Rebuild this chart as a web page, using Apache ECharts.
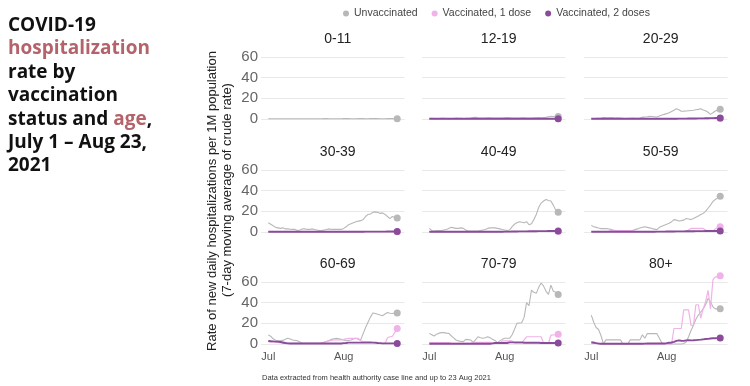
<!DOCTYPE html>
<html><head><meta charset="utf-8">
<script src="https://cdn.jsdelivr.net/npm/echarts@6/dist/echarts.min.js"></script>
<style>html,body{margin:0;padding:0;background:#fff}#c{width:750px;height:386px}</style>
</head><body><div id="c"></div>
<script>
// ---- Data (Jul 1 .. Aug 23, 2021: 54 days) ----
const dayCount = 54;
const monthTicks = [0, 31];
const monthLabels = ['Jul', 'Aug'];
const ageGroups = ['0-11','12-19','20-29','30-39','40-49','50-59','60-69','70-79','80+'];
const seriesNames = ['Unvaccinated', 'Vaccinated, 1 dose', 'Vaccinated, 2 doses'];
const yTicks = [0, 20, 40, 60];

const unvax_0_11 = [0.3,0.3,0.2,0.3,0.3,0.2,0.3,0.3,0.2,0.2,0.3,0.3,0.3,0.2,0.2,0.3,0.3,0.3,0.2,0.2,0.3,0.3,0.3,0.4,0.4,0.3,0.3,0.3,0.2,0.3,0.3,0.4,0.4,0.4,0.3,0.3,0.3,0.4,0.4,0.4,0.3,0.3,0.4,0.4,0.4,0.4,0.3,0.3,0.3,0.4,0.4,0.4,0.3,0.3];
const dose1_0_11 = null;
const dose2_0_11 = null;

const unvax_12_19 = [0.5,0.6,0.5,0.4,0.5,0.7,0.6,0.5,0.4,0.5,0.6,0.8,0.7,0.6,0.5,0.6,0.8,1.0,1.4,1.6,1.2,0.9,0.8,0.9,1.1,1.2,1.0,0.9,0.8,0.9,1.0,1.2,1.3,1.1,0.9,0.8,0.9,1.0,1.1,1.2,1.0,0.9,1.0,1.1,1.2,1.3,1.2,1.4,1.6,2.2,2.5,2.4,2.6,2.4];
const dose1_12_19 = [0.3,0.3,0.3,0.3,0.3,0.3,0.3,0.3,0.3,0.3,0.3,0.3,0.3,0.3,0.3,0.3,0.3,0.3,0.3,0.3,0.3,0.3,0.3,0.3,0.3,0.3,0.3,0.3,0.3,0.3,0.3,0.3,0.3,0.3,0.3,0.3,0.3,0.3,0.3,0.3,0.3,0.3,0.3,0.3,0.3,0.3,0.3,0.3,0.3,0.3,0.3,0.3,0.3,0.3];
const dose2_12_19 = [0.2,0.2,0.2,0.2,0.2,0.2,0.2,0.2,0.2,0.2,0.2,0.2,0.2,0.2,0.2,0.2,0.2,0.2,0.2,0.2,0.2,0.2,0.2,0.2,0.2,0.2,0.2,0.2,0.2,0.2,0.2,0.2,0.2,0.2,0.2,0.2,0.2,0.2,0.2,0.2,0.2,0.2,0.2,0.2,0.2,0.2,0.2,0.2,0.2,0.2,0.2,0.2,0.2,0.2];

const unvax_20_29 = [0.3,0.5,0.6,0.8,1.0,1.5,1.3,1.2,1.4,1.2,1.0,1.1,1.0,0.8,0.5,0.6,0.7,0.8,0.7,0.6,0.9,1.8,2.0,2.2,2.5,2.4,2.2,2.0,3.0,3.8,4.5,5.2,6.0,7.2,8.5,10.0,9.0,7.5,7.6,7.8,8.0,8.2,8.4,9.0,9.3,10.0,8.8,8.0,6.5,4.5,6.0,7.8,8.6,9.5];
const dose1_20_29 = [0.3,0.3,0.3,0.3,0.3,0.3,0.3,0.3,0.3,0.3,0.3,0.3,0.3,0.3,0.3,0.3,0.3,0.3,0.3,0.3,0.3,0.3,0.3,0.3,0.3,0.3,0.3,0.3,0.3,0.3,0.3,0.3,0.3,0.3,0.4,0.4,0.4,0.4,0.4,0.4,0.4,0.4,0.4,0.4,0.4,0.4,0.4,0.4,0.4,0.4,0.4,0.4,0.4,0.4];
const dose2_20_29 = [0.2,0.2,0.2,0.2,0.2,0.2,0.2,0.2,0.2,0.2,0.2,0.2,0.2,0.2,0.2,0.2,0.2,0.2,0.2,0.2,0.2,0.2,0.2,0.2,0.2,0.2,0.2,0.2,0.2,0.2,0.3,0.3,0.3,0.3,0.3,0.3,0.4,0.4,0.4,0.4,0.5,0.5,0.5,0.5,0.6,0.6,0.6,0.7,0.7,0.8,0.8,0.9,0.9,1.0];

const unvax_30_39 = [9,7.5,6,4.5,4,3.5,4,3,3,2.7,2.5,2.5,1.5,2,3,3,2.5,2.5,3,2.5,2,1.5,1.5,2,2.5,3,2.5,2.5,2.5,2.5,2.5,3.5,5,7,8,9,10,10.5,11,12,15,17,17.5,19,19.5,19,18,18.5,17,15,13,15,14,13.5];
const dose1_30_39 = [0.3,0.3,0.3,0.3,0.3,0.3,0.3,0.3,0.3,0.3,0.3,0.3,0.3,0.3,0.3,0.3,0.3,0.3,0.3,0.3,0.3,0.3,0.3,0.3,0.3,0.3,0.3,0.3,0.3,0.3,0.3,0.3,0.3,0.3,0.3,0.3,0.3,0.3,0.3,0.3,0.3,0.3,0.3,0.3,0.3,0.3,0.3,0.3,0.3,0.3,0.3,0.3,0.3,0.3];
const dose2_30_39 = [0.2,0.2,0.2,0.2,0.2,0.2,0.2,0.2,0.2,0.2,0.2,0.2,0.2,0.2,0.2,0.2,0.2,0.2,0.2,0.2,0.2,0.2,0.2,0.2,0.2,0.2,0.2,0.2,0.2,0.2,0.3,0.3,0.3,0.3,0.3,0.3,0.3,0.3,0.3,0.3,0.4,0.4,0.4,0.4,0.4,0.4,0.4,0.4,0.4,0.5,0.5,0.5,0.5,0.5];

const unvax_40_49 = [3.5,1.5,1,1.5,1.5,1.5,2,2.5,3.5,4.5,4,3.5,3.5,4,3.5,2,1,1,1,1,1,1.5,2,2.5,3.5,4,4,4,3.5,3,2.5,2,1.5,2,5,7.5,9,10,9.5,9,10,7,8,12,17,24,28,30,31.5,30.5,30,26,21,19];
const dose1_40_49 = [0.3,0.3,0.3,0.3,0.3,0.3,0.3,0.3,0.3,0.3,0.3,0.3,0.3,0.3,0.3,0.3,0.3,0.3,0.3,0.3,0.3,0.3,0.3,0.3,0.3,0.3,0.3,0.3,0.3,0.3,0.3,0.3,0.3,0.3,0.5,0.5,0.5,0.5,0.5,0.5,0.5,0.5,0.5,0.5,0.5,0.5,0.5,0.5,0.5,0.5,0.5,0.5,0.5,0.5];
const dose2_40_49 = [0.2,0.2,0.2,0.2,0.2,0.2,0.2,0.2,0.2,0.2,0.2,0.2,0.2,0.2,0.2,0.2,0.2,0.2,0.2,0.2,0.2,0.2,0.2,0.2,0.2,0.2,0.3,0.3,0.3,0.3,0.3,0.4,0.4,0.4,0.5,0.5,0.5,0.6,0.6,0.6,0.6,0.7,0.7,0.7,0.7,0.8,0.8,0.8,0.8,0.9,0.9,0.9,1.0,1.0];

const unvax_50_59 = [6.7,5,4.5,3.8,3.3,3.3,3.4,3,2.7,1.8,1.3,1,1,1.1,1,1,1.3,1.7,2.3,3,3.8,4.6,5,4.5,4,3.3,2.8,2.3,4.5,5.5,6.5,7.5,8.5,10,12,11.5,10.7,11,11.5,13,12.5,12,13,14.3,15.5,17,18,20,23,26,29.5,31.5,33,34.5];
const dose1_50_59 = [0.5,0.5,0.5,0.5,0.5,0.5,0.5,0.5,1.3,1.3,1.3,1.3,1.3,1.3,1.3,1.3,1.3,1.3,0.5,0.5,0.5,0.5,0.5,0.5,0.5,0.5,0.5,0.5,0.5,0.5,0.5,0.5,0.5,0.5,0.5,0.5,0.5,0.5,0.5,0.5,2,3.5,3.5,3.5,3.5,3.5,3.5,2,0.8,0.8,0.8,3,4.5,5];
const dose2_50_59 = [0.3,0.3,0.3,0.3,0.3,0.3,0.3,0.3,0.3,0.3,0.3,0.3,0.3,0.3,0.3,0.3,0.3,0.3,0.3,0.3,0.3,0.3,0.3,0.3,0.3,0.3,0.3,0.4,0.4,0.4,0.4,0.5,0.5,0.5,0.5,0.6,0.6,0.6,0.6,0.7,0.7,0.7,0.7,0.8,0.8,0.8,0.8,0.9,0.9,0.9,1.0,1.0,1.0,1.0];

const unvax_60_69 = [8.7,7.5,5,3.7,3.2,3.3,3.5,4.5,5.5,4.8,3.9,3.5,3.2,2,1,0.7,0.6,0.6,0.6,0.6,0.6,0.7,1.2,1.8,2.5,3.5,4.5,5,5.5,5,4.5,4,3.2,3.5,3.9,4.8,5.5,4.5,4,10,16,21,26,30,29.5,28.7,28,27.4,29,30.5,29.7,29.5,30,30];
const dose1_60_69 = [2.3,2,2,2,1.5,1,0.6,0.6,0.6,0.6,0.6,0.6,0.6,0.6,0.6,0.6,0.6,0.6,0.6,0.6,0.6,0.6,0.6,1.5,2.5,3,3.5,3.9,3.9,4,3.9,4.5,5,5.5,5.5,5.5,5.5,5.5,3,2.3,2.3,2.3,2.3,1.5,0.6,0.6,0.5,0.3,0.5,6,7,7.5,11,15];
const dose2_60_69 = [2.9,2.7,2.5,2.3,2.3,2,1.5,1,0.6,0.5,0.5,0.5,0.5,0.5,0.5,0.5,0.5,0.5,0.5,0.5,0.5,0.5,0.5,0.5,0.5,0.5,0.5,0.5,0.5,0.5,0.5,0.8,1,1.3,1.3,1.3,1.3,1.3,1.3,1.3,1.3,1.3,1.3,1.3,1.3,1,0.8,0.6,0.6,0.6,0.6,0.6,0.6,0.6];

const unvax_70_79 = [10.3,9,7.7,9.5,10.5,11,11,10.5,10.3,8,6,3.9,3,2.5,2.3,4.5,4.2,3.9,1.6,4,7,6,5.5,6,7,6,4.5,3.5,1.3,3,4.5,5.5,5.5,5.5,8.7,14,20,20.3,20.6,26,40,37,52,50,49,55,59,56,51,48,57,51,50,48];
const dose1_70_79 = [1.3,1.3,1.3,1.3,1.3,1.3,1.3,1.3,1.3,0.6,0.6,0.6,0.6,0.6,0.6,0.6,0.6,0.6,1.6,1.6,1.6,1.6,1.6,1.6,1.6,1.6,0.8,0.8,0.8,0.8,3,3,3,3,3,0.8,0.8,0.8,0.8,4,7,7,7,7,7,7,7,0.8,0.6,0.6,8.5,8.7,9,9.5];
const dose2_70_79 = [0.3,0.3,0.3,0.3,0.3,0.3,0.3,0.3,0.3,0.3,0.3,0.3,0.3,0.3,0.3,0.3,0.3,0.3,0.3,0.3,0.3,0.3,0.3,0.3,0.3,0.3,0.6,1,1,1,1,1,1,1.6,1.6,1.6,1.6,1.6,1.6,1.2,1.2,1.2,1.2,1.2,1.2,1.2,1,1,1,1,1,1,1,1];

const unvax_80p = [28,21,16,14,8,0,4,4,4,4,4,4,4,0,0,0,4,4,4,4,4,9,5.5,10,10,10,10,10,5.5,1,0,0,0,0,0,0,0,0,0.5,2,7,13,18,24,28,31,34,38,44,41,36,34,34,34];
const dose1_80p = [2.3,2,1,0.5,0,0,0,0,0,0,0,0,0,0,0,0,0,0,0,0,0,0,0,0,0,0,0,0,0,0,0,0,0,0,15,15,15,15,33,33,33,18,18,38,38,25,34,41,52,34,62,65,65,66];
const dose2_80p = [1.5,1.2,0.8,0.5,0.3,0.3,0.3,0.3,0.3,0.3,0.3,0.3,0.3,0.3,0.3,0.3,0.3,0.3,0.3,0.3,0.3,0.3,0.4,0.5,0.5,0.5,0.5,0.5,0.5,0.5,0.5,0.8,1.2,1.5,2,3,3.5,3.2,3,3.5,3.8,3.5,3.6,3.8,4,4.2,4.5,4.8,5,5.3,5.5,5.6,5.7,5.8];

const panelData = [
  [unvax_0_11, dose1_0_11, dose2_0_11],
  [unvax_12_19, dose1_12_19, dose2_12_19],
  [unvax_20_29, dose1_20_29, dose2_20_29],
  [unvax_30_39, dose1_30_39, dose2_30_39],
  [unvax_40_49, dose1_40_49, dose2_40_49],
  [unvax_50_59, dose1_50_59, dose2_50_59],
  [unvax_60_69, dose1_60_69, dose2_60_69],
  [unvax_70_79, dose1_70_79, dose2_70_79],
  [unvax_80p, dose1_80p, dose2_80p]
];

// ---- Layout / style ----
const colors = ['#b8b8b8', '#f0b2e8', '#8a4b9b'];
const lineWidths = [1.1, 1.2, 1.9];
const colLeft = [261, 422, 584];
const rowTop = [57, 170, 282];
const gridW = 143.5, gridH = 62;
const FONT = 'Liberation Sans, Arial, sans-serif';

const chart = echarts.init(document.getElementById('c'), null, {renderer: 'canvas'});
const grids = [], xAxes = [], yAxes = [], series = [], titles = [];
ageGroups.forEach((name, p) => {
  const r = Math.floor(p / 3), c = p % 3;
  grids.push({left: colLeft[c], top: rowTop[r], width: gridW, height: gridH, containLabel: false});
  titles.push({text: name, left: colLeft[c] + gridW / 2, top: rowTop[r] - 30, textAlign: 'center',
    textStyle: {fontFamily: FONT, fontSize: 14, fontWeight: 'normal', color: '#222'}});
  xAxes.push({type: 'value', gridIndex: p, min: -3, max: dayCount + 2,
    axisLine: {show: false}, axisTick: {show: false}, splitLine: {show: false},
    axisLabel: {show: r === 2, customValues: monthTicks, margin: 7,
      formatter: v => monthLabels[monthTicks.indexOf(v)] || '',
      fontFamily: FONT, fontSize: 11, color: '#555'}});
  yAxes.push({type: 'value', gridIndex: p, min: 0, max: 60, interval: 20,
    axisLine: {show: false}, axisTick: {show: false},
    splitLine: {show: true, lineStyle: {color: '#e9e9e9', width: 1}},
    axisLabel: {show: c === 0, margin: 3, fontFamily: FONT, fontSize: 15, color: '#666'}});
  panelData[p].forEach((arr, s) => {
    if (!arr) return;
    series.push({
      name: seriesNames[s], type: 'line', xAxisIndex: p, yAxisIndex: p,
      data: arr.map((v, i) => [i, v]),
      clip: false, z: 2 + s,
      lineStyle: {color: colors[s], width: lineWidths[s]},
      itemStyle: {color: colors[s]},
      symbol: 'circle', showSymbol: true, showAllSymbol: true,
      symbolSize: (v, prm) => prm.dataIndex === arr.length - 1 ? 7 : 0,
      emphasis: {disabled: true}, silent: true
    });
  });
});

chart.setOption({
  animation: false,
  title: titles,
  grid: grids, xAxis: xAxes, yAxis: yAxes, series: series,
  legend: {data: seriesNames, top: 3, left: 338, icon: 'circle', itemWidth: 6, itemHeight: 6, itemGap: 14,
    textStyle: {fontFamily: FONT, fontSize: 10.5, color: '#444'}, selectedMode: false},
  graphic: [
    {type: 'text', left: 8, top: 16, style: {
      text: '{b|COVID-19}\n{r|hospitalization}\n{b|rate by}\n{b|vaccination}\n{b|status and }{r|age}{b|,}\n{b|July 1 – Aug 23,}\n{b|2021}',
      rich: {
        b: {fontFamily: 'Open Sans', fontWeight: 'bold', fontSize: 19, lineHeight: 23.4, fill: '#111'},
        r: {fontFamily: 'Open Sans', fontWeight: 'bold', fontSize: 19, lineHeight: 23.4, fill: '#b5636a'}
      }}},
    {type: 'text', x: 212, y: 201, rotation: Math.PI / 2, style: {
      text: 'Rate of new daily hospitalizations per 1M population', textAlign: 'center', textVerticalAlign: 'middle',
      font: '13px ' + FONT, fill: '#222'}},
    {type: 'text', x: 227, y: 190, rotation: Math.PI / 2, style: {
      text: '(7-day moving average of crude rate)', textAlign: 'center', textVerticalAlign: 'middle',
      font: '13px ' + FONT, fill: '#222'}},
    {type: 'text', left: 262, top: 374, style: {
      text: 'Data extracted from health authority case line and up to 23 Aug 2021',
      font: '7.5px ' + FONT, fill: '#333'}}
  ]
});
</script></body></html>
